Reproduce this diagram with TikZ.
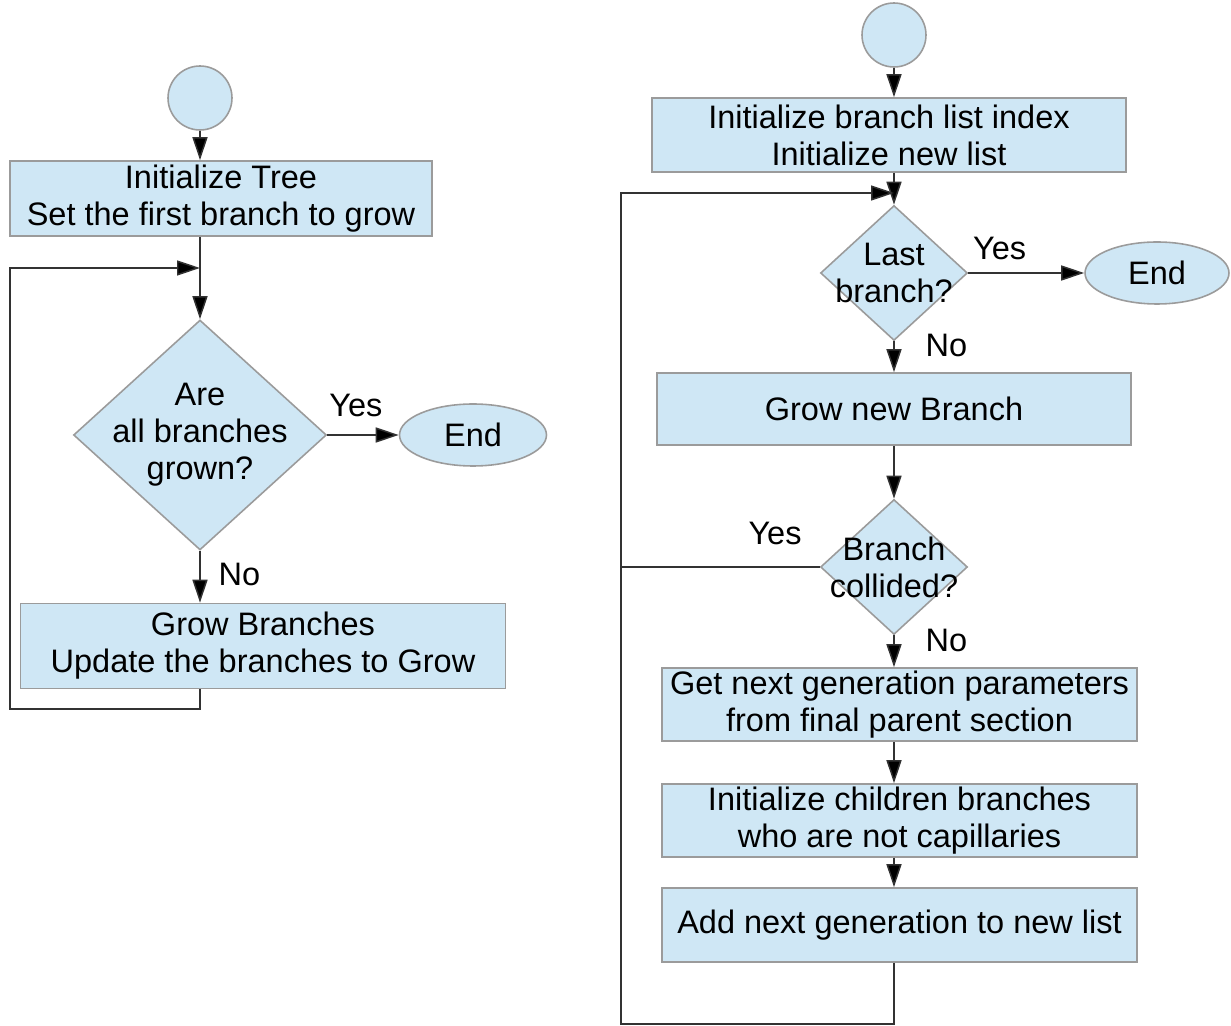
\documentclass[tikz,border=0pt]{standalone}
\usepackage{fontspec}
\setmainfont{Liberation Sans}
\usepackage{tikz}
\usetikzlibrary{positioning}
\usetikzlibrary{arrows.meta}
\usetikzlibrary{shapes,calc}
\definecolor{myblue}{RGB}{207,231,245}
\definecolor{mygray}{RGB}{155,155,155}
\definecolor{myline}{RGB}{50,50,50}

\begin{document}
\begin{tikzpicture}[x=0.02cm, y=-0.02cm, font=\fontsize{18.5}{21}\selectfont]
	\useasboundingbox (0,0) rectangle (1231,1026);
	\begin{scope}[every node/.style={fill=myblue, draw=mygray, line width=0.9pt, align=center, inner sep=0}]
	    \node (S1) [circle, minimum size=1.28cm] at (200,98) {};
	    \node (I1) [minimum width=8.44cm, minimum height=1.5cm] at (221,198.5) {Initialize Tree\\Set the first branch to grow};
	    \node (D1) [diamond, minimum width=5.06cm, minimum height=4.6cm,
	                label={[fill=none, draw=none, align=center]center:Are\\all branches\\grown?}] at (200,435) {};
	    \node (E1) [ellipse, minimum width=2.94cm, minimum height=1.24cm] at (473,435) {End};
	    \node (G1) [minimum width=9.7cm, minimum height=1.7cm] at (263,646) {Grow Branches\\Update the branches to Grow};

	    \node (S2) [circle, minimum size=1.28cm] at (894,35) {};
	    \node (I2) [minimum width=9.48cm, minimum height=1.48cm] at (889,135) {Initialize branch list index\\Initialize new list};
	    \node (D2) [diamond, minimum width=2.94cm, minimum height=2.7cm,
	                label={[fill=none, draw=none, align=center]center:Last\\branch?}] at (894,273) {};
	    \node (E2) [ellipse, minimum width=2.88cm, minimum height=1.24cm] at (1157,273) {End};
	    \node (G2) [minimum width=9.48cm, minimum height=1.44cm] at (894,409) {Grow new Branch};
	    \node (B2) [diamond, minimum width=2.94cm, minimum height=2.7cm,
	                label={[fill=none, draw=none, align=center]center:Branch\\collided?}] at (894,567) {};
	    \node (P2) [minimum width=9.5cm, minimum height=1.46cm] at (899.5,704.5) {Get next generation parameters\\from final parent section};
	    \node (C2) [minimum width=9.5cm, minimum height=1.46cm] at (899.5,820.5) {Initialize children branches\\who are not capillaries};
	    \node (A2) [minimum width=9.5cm, minimum height=1.48cm] at (899.5,925) {Add next generation to new list};
	\end{scope}

	\coordinate (L1) at (10,709);
	\coordinate (J1) at (200,268);
	\coordinate (L2) at (621,1024);
	\coordinate (J2) at (894,193);

	\begin{scope}[>={Triangle[length=0.46cm, width=0.3cm, fill=black]}, draw=myline, line width=0.85pt,
	              every node/.style={inner sep=0}]
    	\draw [->] (S1) -- (S1 |- I1.north);
    	\draw [->] (S1 |- I1.south) -- (D1.north);
    	\draw [->] (D1.east) -- node[pos=0.4, above=0.34cm] {Yes} (E1.west);
    	\draw [->] (D1.south) -- node[pos=0.46, right=0.36cm] {No} (D1.south |- G1.north);
    	\draw [->] (S1 |- G1.south) |- (L1) |- (J1);

    	\draw [->] (S2) -- (S2 |- I2.north);
    	\draw [->] (S2 |- I2.south) -- (D2.north);
    	\draw [->] (D2.east) -- node[pos=0.27, above=0.24cm] {Yes} (E2.west);
    	\draw [->] (D2.south) -- node[pos=0.12, right=0.62cm] {No} (G2.north);
    	\draw [->] (G2.south) -- (B2.north);
    	\draw (B2.west) -- node[pos=0.225, above=0.42cm] {Yes} (B2.west -| L2);
    	\draw [->] (B2.south) -- node[pos=0.15, right=0.62cm] {No} (B2.south |- P2.north);
    	\draw [->] (S2 |- P2.south) -- (S2 |- C2.north);
    	\draw [->] (S2 |- C2.south) -- (S2 |- A2.north);
    	\draw [->] (S2 |- A2.south) |- (L2) |- (J2);
	\end{scope}
\end{tikzpicture}
\end{document}
